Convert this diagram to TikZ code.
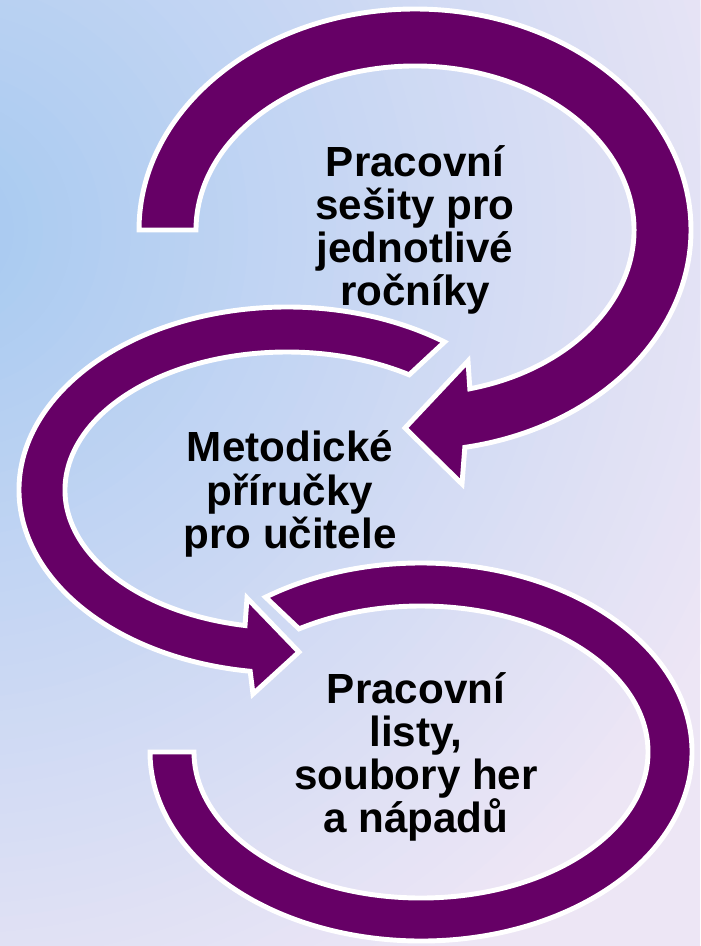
\documentclass[tikz,border=0pt]{standalone}
\usepackage{fontspec}
\setmainfont{Liberation Sans}
\usetikzlibrary{calc}
\definecolor{plum}{HTML}{660066}
\definecolor{bgblue}{HTML}{A5C9F1}
\definecolor{bglav}{HTML}{EDE6F5}
\begin{document}
\begin{tikzpicture}[x=0.02cm,y=-0.02cm,
  swoosh/.style={fill=plum,draw=white,line width=2.8pt},
  txt/.style={font=\fontsize{24}{24.6}\selectfont\bfseries,align=center,text=black}]
\useasboundingbox (0,0) rectangle (700,946);
\begin{scope}
\clip (0,0) rectangle (700,946);
\fill[bglav] (0,0) rectangle (700,946);
\foreach \k in {60,59,...,1}{
  \pgfmathsetmacro\mixp{\k*5/3}
  \fill[bglav!\mixp!bgblue] (-60,230) circle ({14.6667*\k});
}
\end{scope}
\coordinate (c1) at (415,230);
\coordinate (c2) at (287,490);
\coordinate (c3) at (421,752);
% bottom arc
\draw[swoosh] ($(c3)+(-125:271 and 189)$) arc[start angle=-125,end angle=180,x radius=271,y radius=189]
  -- ($(c3)+(180:227 and 146)$) arc[start angle=180,end angle=-122.5,x radius=227,y radius=146] -- cycle;
% middle arc
\draw[swoosh] ($(c2)+(-54:268 and 183)$) arc[start angle=-54,end angle=-262.1,x radius=268,y radius=183]
  -- (253,694) -- (299,652) -- (247,598)
  -- ($(c2)+(-259.1:222 and 138)$) arc[start angle=-259.1,end angle=-56.6,x radius=222,y radius=138] -- cycle;
% top arc
\draw[swoosh] ($(c1)+(180:276 and 221)$) arc[start angle=180,end angle=439.6,x radius=276,y radius=221]
  -- (462,484) -- (405,428) -- (468,361)
  -- ($(c1)+(435.5:219 and 164)$) arc[start angle=435.5,end angle=180,x radius=219,y radius=164] -- cycle;
\node[txt] (sesity) at (c1) {Pracovní\\sešity pro\\jednotlivé\\ročníky};
\node[txt] (prirucky) at (290,494) {Metodické\\příručky\\pro učitele};
\node[txt] (listy) at (416,757) {Pracovní\\listy,\\soubory her\\a nápadů};
\end{tikzpicture}
\end{document}
